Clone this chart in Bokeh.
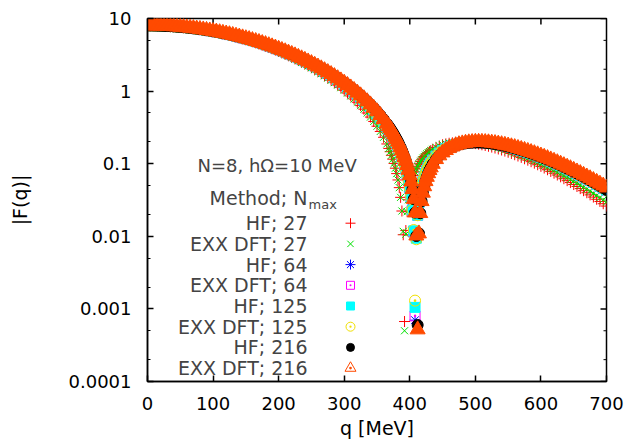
from bokeh.plotting import figure
from bokeh.models import FixedTicker, Label, Range1d, CustomJSTickFormatter
from bokeh.embed import file_html
from bokeh.resources import INLINE

# ---------------- data ----------------
q_mev = [0, 5, 10, 15, 20, 25, 30, 35, 40, 45, 50, 55, 60, 65, 70, 75, 80, 85, 90, 95,
         100, 105, 110, 115, 120, 125, 130, 135, 140, 145, 150, 155, 160, 165, 170, 175, 180, 185, 190, 195,
         200, 205, 210, 215, 220, 225, 230, 235, 240, 245, 250, 255, 260, 265, 270, 275, 280, 285, 290, 295,
         300, 305, 310, 315, 320, 325, 330, 335, 340, 345, 350, 355, 360, 365,
         368, 370, 372, 374, 376, 378, 380, 382, 384, 386, 388, 390, 392, 394, 396, 398, 400, 402, 404, 406,
         408, 410, 412, 414, 416, 418, 420, 422, 424, 426, 428, 430, 432,
         435, 440, 445, 450, 455, 460, 465, 470, 475, 480, 485, 490, 495, 500, 505, 510, 515, 520, 525, 530,
         535, 540, 545, 550, 555, 560, 565, 570, 575, 580, 585, 590, 595, 600, 605, 610, 615, 620, 625, 630,
         635, 640, 645, 650, 655, 660, 665, 670, 675, 680, 685, 690, 695, 700]

hf_27 = [8.0, 7.996, 7.984, 7.965, 7.938, 7.903, 7.860, 7.811, 7.753, 7.689, 7.618, 7.540, 7.455, 7.363, 7.266, 7.163, 7.054, 6.939, 6.819, 6.695,
         6.566, 6.433, 6.295, 6.155, 6.010, 5.863, 5.713, 5.561, 5.407, 5.251, 5.094, 4.936, 4.777, 4.617, 4.458, 4.298, 4.140, 3.981, 3.824, 3.669,
         3.514, 3.362, 3.211, 3.063, 2.917, 2.774, 2.634, 2.496, 2.362, 2.230, 2.102, 1.978, 1.857, 1.740, 1.627, 1.517, 1.411, 1.309, 1.211, 1.116,
         1.026, 0.9394, 0.8567, 0.7778, 0.7027, 0.6314, 0.5637, 0.4996, 0.4391, 0.3821, 0.3285, 0.2782, 0.2311, 0.1871,
         0.1622, 0.1462, 0.1306, 0.1155, 0.1009, 0.0867, 0.0730, 0.0597, 0.0468, 0.0344, 0.0223, 0.0105, 0.00067, 0.0120, 0.0218, 0.0319, 0.0416, 0.0509, 0.0599, 0.0685,
         0.0768, 0.0847, 0.0923, 0.0996, 0.1065, 0.1132, 0.1195, 0.1255, 0.1313, 0.1367, 0.1419, 0.1468, 0.1515,
         0.1580, 0.1675, 0.1756, 0.1824, 0.1873, 0.1912, 0.1939, 0.1956, 0.1964, 0.1963, 0.1955, 0.1939, 0.1918, 0.1891, 0.1858, 0.1822, 0.1782, 0.1739, 0.1693, 0.1644,
         0.1594, 0.1543, 0.1491, 0.1438, 0.1384, 0.1330, 0.1276, 0.1222, 0.1169, 0.1118, 0.1066, 0.1016, 0.0967, 0.0919, 0.0872, 0.0826, 0.0783, 0.0740, 0.0699, 0.0660,
         0.0621, 0.0584, 0.0550, 0.0516, 0.0485, 0.0454, 0.0425, 0.0398, 0.0372, 0.0347, 0.0324, 0.0302, 0.0281, 0.0261]

exx_27 = [8.0, 7.996, 7.984, 7.965, 7.938, 7.903, 7.860, 7.811, 7.753, 7.689, 7.618, 7.540, 7.455, 7.363, 7.266, 7.163, 7.054, 6.939, 6.819, 6.695,
          6.566, 6.433, 6.295, 6.155, 6.010, 5.863, 5.713, 5.561, 5.407, 5.251, 5.094, 4.936, 4.777, 4.617, 4.458, 4.298, 4.140, 3.981, 3.824, 3.669,
          3.514, 3.362, 3.211, 3.063, 2.917, 2.774, 2.634, 2.496, 2.362, 2.230, 2.102, 1.978, 1.857, 1.740, 1.627, 1.517, 1.411, 1.309, 1.211, 1.116,
          1.026, 0.9394, 0.8567, 0.7778, 0.7027, 0.6314, 0.5637, 0.4996, 0.4391, 0.3821, 0.3285, 0.2782, 0.2311, 0.1871,
          0.1622, 0.1462, 0.1306, 0.1155, 0.1009, 0.0867, 0.0730, 0.0597, 0.0468, 0.0344, 0.0223, 0.0117, 0.0005, 0.0107, 0.0218, 0.0319, 0.0416, 0.0509, 0.0599, 0.0685,
          0.0768, 0.0847, 0.0923, 0.0996, 0.1065, 0.1132, 0.1195, 0.1255, 0.1313, 0.1367, 0.1419, 0.1468, 0.1515,
          0.1580, 0.1675, 0.1756, 0.1824, 0.1878, 0.1921, 0.1953, 0.1975, 0.1988, 0.1992, 0.1988, 0.1977, 0.1960, 0.1937, 0.1908, 0.1876, 0.1839, 0.1799, 0.1756, 0.1710,
          0.1662, 0.1613, 0.1562, 0.1510, 0.1457, 0.1404, 0.1351, 0.1297, 0.1244, 0.1192, 0.1140, 0.1089, 0.1039, 0.0990, 0.0942, 0.0895, 0.0850, 0.0806, 0.0763, 0.0722,
          0.0682, 0.0643, 0.0607, 0.0571, 0.0538, 0.0505, 0.0474, 0.0445, 0.0417, 0.0390, 0.0365, 0.0341, 0.0318, 0.0297]

hf_64 = [8.0, 7.996, 7.986, 7.967, 7.943, 7.910, 7.872, 7.825, 7.772, 7.713, 7.647, 7.575, 7.496, 7.412, 7.321, 7.225, 7.124, 7.017, 6.906, 6.790,
         6.669, 6.545, 6.416, 6.284, 6.149, 6.010, 5.869, 5.725, 5.579, 5.431, 5.282, 5.131, 4.979, 4.827, 4.674, 4.521, 4.369, 4.215, 4.063, 3.912,
         3.761, 3.612, 3.465, 3.319, 3.175, 3.033, 2.894, 2.757, 2.622, 2.490, 2.362, 2.235, 2.112, 1.993, 1.876, 1.763, 1.653, 1.547, 1.444, 1.345,
         1.249, 1.157, 1.069, 0.9837, 0.9025, 0.8247, 0.7500, 0.6791, 0.6117, 0.5477, 0.4870, 0.4295, 0.3752, 0.3243,
         0.2949, 0.2760, 0.2576, 0.2396, 0.2222, 0.2051, 0.1886, 0.1725, 0.1568, 0.1416, 0.1268, 0.1124, 0.0984, 0.0849, 0.0717, 0.0590, 0.0466, 0.0347, 0.0231, 0.0115,
         0.0007, 0.0098, 0.0195, 0.0293, 0.0387, 0.0477, 0.0565, 0.0649, 0.0730, 0.0807, 0.0882, 0.0954, 0.1022,
         0.1120, 0.1268, 0.1400, 0.1515, 0.1616, 0.1703, 0.1777, 0.1838, 0.1888, 0.1927, 0.1956, 0.1976, 0.1988, 0.1992, 0.1988, 0.1978, 0.1962, 0.1940, 0.1914, 0.1884,
         0.1850, 0.1812, 0.1771, 0.1728, 0.1683, 0.1636, 0.1588, 0.1539, 0.1488, 0.1438, 0.1387, 0.1335, 0.1284, 0.1234, 0.1183, 0.1134, 0.1085, 0.1036, 0.0989, 0.0943,
         0.0898, 0.0855, 0.0812, 0.0771, 0.0731, 0.0692, 0.0655, 0.0619, 0.0585, 0.0552, 0.0520, 0.0490, 0.0461, 0.0433]

exx_64 = [8.0, 7.996, 7.986, 7.967, 7.943, 7.910, 7.872, 7.825, 7.772, 7.713, 7.647, 7.575, 7.496, 7.412, 7.321, 7.225, 7.124, 7.017, 6.906, 6.790,
          6.669, 6.545, 6.416, 6.284, 6.149, 6.010, 5.869, 5.725, 5.579, 5.431, 5.282, 5.131, 4.979, 4.827, 4.674, 4.521, 4.369, 4.215, 4.063, 3.912,
          3.761, 3.612, 3.465, 3.319, 3.175, 3.033, 2.894, 2.757, 2.622, 2.490, 2.362, 2.235, 2.112, 1.993, 1.876, 1.763, 1.653, 1.547, 1.444, 1.345,
          1.249, 1.157, 1.069, 0.9837, 0.9025, 0.8247, 0.7500, 0.6791, 0.6117, 0.5477, 0.4870, 0.4295, 0.3752, 0.3243,
          0.2949, 0.2760, 0.2576, 0.2396, 0.2222, 0.2051, 0.1886, 0.1725, 0.1568, 0.1416, 0.1268, 0.1124, 0.0984, 0.0849, 0.0717, 0.0590, 0.0466, 0.0347, 0.0231, 0.0116,
          0.0008, 0.0097, 0.0195, 0.0293, 0.0387, 0.0477, 0.0565, 0.0649, 0.0730, 0.0807, 0.0882, 0.0954, 0.1022,
          0.1120, 0.1268, 0.1400, 0.1515, 0.1616, 0.1703, 0.1777, 0.1838, 0.1888, 0.1927, 0.1956, 0.1976, 0.1988, 0.1992, 0.1988, 0.1978, 0.1962, 0.1940, 0.1914, 0.1884,
          0.1850, 0.1812, 0.1771, 0.1728, 0.1683, 0.1636, 0.1588, 0.1539, 0.1488, 0.1438, 0.1387, 0.1335, 0.1284, 0.1234, 0.1183, 0.1134, 0.1085, 0.1036, 0.0989, 0.0943,
          0.0898, 0.0855, 0.0812, 0.0771, 0.0731, 0.0692, 0.0655, 0.0619, 0.0585, 0.0552, 0.0520, 0.0490, 0.0461, 0.0433]

hf_125 = [8.0, 7.996, 7.986, 7.967, 7.943, 7.910, 7.872, 7.825, 7.772, 7.713, 7.647, 7.575, 7.496, 7.412, 7.321, 7.225, 7.124, 7.017, 6.906, 6.790,
          6.669, 6.545, 6.416, 6.284, 6.149, 6.010, 5.869, 5.725, 5.579, 5.431, 5.282, 5.131, 4.979, 4.827, 4.674, 4.521, 4.369, 4.215, 4.063, 3.912,
          3.761, 3.612, 3.465, 3.319, 3.175, 3.033, 2.894, 2.757, 2.622, 2.490, 2.362, 2.235, 2.112, 1.993, 1.876, 1.763, 1.653, 1.547, 1.444, 1.345,
          1.249, 1.157, 1.069, 0.9837, 0.9025, 0.8247, 0.7500, 0.6791, 0.6117, 0.5477, 0.4870, 0.4295, 0.3752, 0.3243,
          0.2949, 0.2760, 0.2576, 0.2396, 0.2222, 0.2051, 0.1886, 0.1725, 0.1568, 0.1416, 0.1268, 0.1124, 0.0984, 0.0849, 0.0717, 0.0590, 0.0466, 0.0347, 0.0231, 0.0119,
          0.00105, 0.0094, 0.0195, 0.0293, 0.0387, 0.0477, 0.0565, 0.0649, 0.0730, 0.0807, 0.0882, 0.0954, 0.1022,
          0.1120, 0.1268, 0.1400, 0.1515, 0.1616, 0.1703, 0.1777, 0.1838, 0.1888, 0.1927, 0.1956, 0.1976, 0.1988, 0.1992, 0.1988, 0.1978, 0.1962, 0.1940, 0.1914, 0.1884,
          0.1850, 0.1812, 0.1771, 0.1728, 0.1683, 0.1636, 0.1588, 0.1539, 0.1488, 0.1438, 0.1387, 0.1335, 0.1284, 0.1234, 0.1183, 0.1134, 0.1085, 0.1036, 0.0989, 0.0943,
          0.0898, 0.0855, 0.0812, 0.0771, 0.0731, 0.0692, 0.0655, 0.0619, 0.0585, 0.0552, 0.0520, 0.0490, 0.0461, 0.0433]

exx_125 = [8.0, 7.996, 7.986, 7.967, 7.943, 7.910, 7.872, 7.825, 7.772, 7.713, 7.647, 7.575, 7.496, 7.412, 7.321, 7.225, 7.124, 7.017, 6.906, 6.790,
           6.669, 6.545, 6.416, 6.284, 6.149, 6.010, 5.869, 5.725, 5.579, 5.431, 5.282, 5.131, 4.979, 4.827, 4.674, 4.521, 4.369, 4.215, 4.063, 3.912,
           3.761, 3.612, 3.465, 3.319, 3.175, 3.033, 2.894, 2.757, 2.622, 2.490, 2.362, 2.235, 2.112, 1.993, 1.876, 1.763, 1.653, 1.547, 1.444, 1.345,
           1.249, 1.157, 1.069, 0.9837, 0.9025, 0.8247, 0.7500, 0.6791, 0.6117, 0.5477, 0.4870, 0.4295, 0.3752, 0.3243,
           0.2949, 0.2760, 0.2576, 0.2396, 0.2222, 0.2051, 0.1886, 0.1725, 0.1568, 0.1416, 0.1268, 0.1124, 0.0984, 0.0849, 0.0717, 0.0590, 0.0466, 0.0347, 0.0231, 0.0122,
           0.0013, 0.0091, 0.0195, 0.0293, 0.0387, 0.0477, 0.0565, 0.0649, 0.0730, 0.0807, 0.0882, 0.0954, 0.1022,
           0.1120, 0.1268, 0.1400, 0.1515, 0.1616, 0.1703, 0.1777, 0.1838, 0.1888, 0.1927, 0.1956, 0.1976, 0.1988, 0.1992, 0.1988, 0.1978, 0.1962, 0.1940, 0.1914, 0.1884,
           0.1850, 0.1812, 0.1771, 0.1728, 0.1683, 0.1636, 0.1588, 0.1539, 0.1488, 0.1438, 0.1387, 0.1335, 0.1284, 0.1234, 0.1183, 0.1134, 0.1085, 0.1036, 0.0989, 0.0943,
           0.0898, 0.0855, 0.0812, 0.0771, 0.0731, 0.0692, 0.0655, 0.0619, 0.0585, 0.0552, 0.0520, 0.0490, 0.0461, 0.0433]

hf_216 = [8.0, 7.996, 7.986, 7.968, 7.944, 7.912, 7.874, 7.828, 7.776, 7.718, 7.653, 7.582, 7.505, 7.422, 7.333, 7.238, 7.139, 7.034, 6.924, 6.810,
          6.691, 6.569, 6.442, 6.312, 6.178, 6.041, 5.902, 5.760, 5.616, 5.470, 5.322, 5.173, 5.023, 4.872, 4.721, 4.569, 4.418, 4.266, 4.115, 3.965,
          3.815, 3.667, 3.520, 3.375, 3.232, 3.090, 2.951, 2.814, 2.680, 2.548, 2.419, 2.292, 2.169, 2.049, 1.932, 1.818, 1.708, 1.601, 1.497, 1.397,
          1.300, 1.207, 1.117, 1.031, 0.9485, 0.8693, 0.7936, 0.7214, 0.6525, 0.5870, 0.5247, 0.4658, 0.4100, 0.3573,
          0.3271, 0.3076, 0.2886, 0.2700, 0.2519, 0.2343, 0.2171, 0.2004, 0.1841, 0.1683, 0.1528, 0.1378, 0.1233, 0.1091, 0.0954, 0.0820, 0.0691, 0.0565, 0.0444, 0.0326,
          0.0212, 0.0101, 0.0006, 0.0110, 0.0208, 0.0304, 0.0397, 0.0487, 0.0573, 0.0656, 0.0736, 0.0813, 0.0886,
          0.0992, 0.1152, 0.1294, 0.1419, 0.1529, 0.1624, 0.1705, 0.1774, 0.1830, 0.1875, 0.1909, 0.1934, 0.1949, 0.1957, 0.1957, 0.1951, 0.1937, 0.1919, 0.1895, 0.1867,
          0.1835, 0.1799, 0.1760, 0.1719, 0.1675, 0.1630, 0.1582, 0.1533, 0.1485, 0.1435, 0.1384, 0.1334, 0.1283, 0.1233, 0.1183, 0.1134, 0.1085, 0.1037, 0.0991, 0.0945,
          0.0900, 0.0856, 0.0814, 0.0773, 0.0733, 0.0695, 0.0658, 0.0622, 0.0587, 0.0555, 0.0523, 0.0492, 0.0463, 0.0435]

exx_216 = [8.0, 7.996, 7.986, 7.968, 7.944, 7.912, 7.874, 7.828, 7.776, 7.718, 7.653, 7.582, 7.505, 7.422, 7.333, 7.238, 7.139, 7.034, 6.924, 6.810,
           6.691, 6.569, 6.442, 6.312, 6.178, 6.041, 5.902, 5.760, 5.616, 5.470, 5.322, 5.173, 5.023, 4.872, 4.721, 4.569, 4.418, 4.266, 4.115, 3.965,
           3.815, 3.667, 3.520, 3.375, 3.232, 3.090, 2.951, 2.814, 2.680, 2.548, 2.419, 2.292, 2.169, 2.049, 1.932, 1.818, 1.708, 1.601, 1.497, 1.397,
           1.300, 1.207, 1.117, 1.031, 0.9485, 0.8693, 0.7936, 0.7214, 0.6525, 0.5870, 0.5247, 0.4658, 0.4100, 0.3573,
           0.3271, 0.3076, 0.2886, 0.2700, 0.2519, 0.2343, 0.2171, 0.2004, 0.1841, 0.1683, 0.1528, 0.1378, 0.1233, 0.1091, 0.0954, 0.0820, 0.0691, 0.0565, 0.0444, 0.0326,
           0.0212, 0.0102, 0.00052, 0.0109, 0.0208, 0.0304, 0.0397, 0.0487, 0.0573, 0.0656, 0.0736, 0.0813, 0.0886,
           0.0992, 0.1152, 0.1296, 0.1423, 0.1535, 0.1633, 0.1717, 0.1788, 0.1847, 0.1895, 0.1932, 0.1960, 0.1978, 0.1989, 0.1992, 0.1988, 0.1977, 0.1961, 0.1939, 0.1913,
           0.1883, 0.1849, 0.1811, 0.1771, 0.1728, 0.1684, 0.1637, 0.1589, 0.1541, 0.1491, 0.1440, 0.1390, 0.1339, 0.1288, 0.1238, 0.1188, 0.1139, 0.1090, 0.1043, 0.0996,
           0.0950, 0.0905, 0.0862, 0.0819, 0.0778, 0.0739, 0.0700, 0.0663, 0.0627, 0.0593, 0.0560, 0.0528, 0.0497, 0.0468]

series_labels = ["HF; 27", "EXX DFT; 27", "HF; 64", "EXX DFT; 64",
                 "HF; 125", "EXX DFT; 125", "HF; 216", "EXX DFT; 216"]
series_values = [hf_27, exx_27, hf_64, exx_64, hf_125, exx_125, hf_216, exx_216]

y_major = [0.0001, 0.001, 0.01, 0.1, 1, 10]
y_minor = [0.0002, 0.0005, 0.002, 0.005, 0.02, 0.05, 0.2, 0.5, 2, 5]
x_major = [0, 100, 200, 300, 400, 500, 600, 700]

for v in series_values:
    assert len(v) == len(q_mev), (len(v), len(q_mev))

# ---------------- styles ----------------
styles = [
    dict(marker="cross", size=11, ksize=10, color="#ff0000", filled=False, kfilled=False),
    dict(marker="x", size=10, ksize=9, color="#00e000", filled=False, kfilled=False),
    dict(marker="asterisk", size=11, ksize=10, color="#0000ff", filled=False, kfilled=False),
    dict(marker="square_dot", size=10, ksize=8, color="#ff00ff", filled=False, kfilled=False),
    dict(marker="square", size=10, ksize=8, color="#00ffff", filled=True, kfilled=True),
    dict(marker="circle_dot", size=11, ksize=9, color="#f0e000", filled=False, kfilled=False),
    dict(marker="circle", size=11, ksize=8, color="#000000", filled=True, kfilled=True),
    dict(marker="triangle_dot", size=15, ksize=11, color="#ff4a00", filled=True, kfilled=False),
]

FONT = "DejaVu Sans"
FS_TICK = "18px"
FS = "19px"

W, H = 626, 444
# page-pixel geometry of the plot frame
FL, FR, FT, FB = 147.0, 606.0, 18.0, 381.0
XMIN, XMAX = 0.0, 700.0


def qx(px):
    return XMIN + (px - FL) / (FR - FL) * (XMAX - XMIN)


def vy(py):
    return 10 ** (1 - (py - FT) / (FB - FT) * 5)


p = figure(width=W, height=H, x_range=Range1d(0, 700), y_range=Range1d(1e-4, 10),
           y_axis_type="log", output_backend="svg", toolbar_location=None,
           min_border_left=int(FL), min_border_right=int(W - FR),
           min_border_top=int(FT), min_border_bottom=int(H - FB))
p.xgrid.visible = False
p.ygrid.visible = False
p.outline_line_color = "black"
p.outline_line_width = 1.5
p.background_fill_color = "white"
p.border_fill_color = "white"

xt = FixedTicker(ticks=x_major, minor_ticks=[])
yt = FixedTicker(ticks=y_major, minor_ticks=y_minor)
yfmt = CustomJSTickFormatter(code="return String(Number(tick.toPrecision(1)));")


def style_axis(ax):
    ax.axis_line_color = "black"
    ax.axis_line_width = 1.5
    ax.major_tick_line_color = "black"
    ax.major_tick_line_width = 1.5
    ax.major_tick_in = 6
    ax.major_tick_out = 0
    ax.minor_tick_line_color = "black"
    ax.minor_tick_line_width = 1
    ax.minor_tick_in = 3
    ax.minor_tick_out = 0
    ax.major_label_text_font = FONT
    ax.major_label_text_color = "black"
    ax.major_label_text_font_size = FS_TICK
    ax.axis_label_text_font = FONT
    ax.axis_label_text_font_size = FS
    ax.axis_label_text_font_style = "normal"
    ax.axis_label_text_color = "black"


xa = p.xaxis[0]
xa.ticker = xt
style_axis(xa)
xa.major_label_standoff = 15
xa.axis_label = "q [MeV]"
xa.axis_label_standoff = 4

ya = p.yaxis[0]
ya.ticker = yt
ya.formatter = yfmt
style_axis(ya)
ya.major_label_standoff = 16
ya.axis_label = "|F(q)|"
ya.axis_label_standoff = 35

# mirrored inward ticks on the top and right borders
top_len = 10 ** (-6 / (FB - FT) * 5)
p.segment(x0=x_major[1:-1], x1=x_major[1:-1], y0=[10] * 6, y1=[10 * top_len] * 6,
          line_color="black", line_width=1.5)
p.segment(x0=[700] * len(y_major), x1=[qx(FR - 6)] * len(y_major), y0=y_major, y1=y_major,
          line_color="black", line_width=1.5)
p.segment(x0=[700] * len(y_minor), x1=[qx(FR - 3)] * len(y_minor), y0=y_minor, y1=y_minor,
          line_color="black", line_width=1)

# ---------------- data points ----------------
for vals, st in zip(series_values, styles):
    p.scatter(q_mev, vals, marker=st["marker"], size=st["size"],
              line_color=st["color"], line_width=1,
              fill_color=st["color"] if st["filled"] else None)

# ---------------- key ----------------
p.add_layout(Label(x=qx(197), y=vy(165), text="N=8, h\u03a9=10 MeV", text_align="left",
                   text_baseline="middle", text_font=FONT, text_font_size="18px"))
p.add_layout(Label(x=qx(307), y=vy(197), text="Method; N", text_align="right",
                   text_baseline="middle", text_font=FONT, text_font_size=FS))
p.add_layout(Label(x=qx(308), y=vy(204), text="max", text_align="left",
                   text_baseline="middle", text_font=FONT, text_font_size="13px"))

row0, drow = 222.7, 20.7
for i, (lab, st) in enumerate(zip(series_labels, styles)):
    py = row0 + i * drow
    p.add_layout(Label(x=qx(307), y=vy(py), text=lab, text_align="right",
                       text_baseline="middle", text_font=FONT, text_font_size=FS))
    p.scatter([qx(350)], [vy(py)], marker=st["marker"], size=st["ksize"],
              line_color=st["color"], line_width=1,
              fill_color=st["color"] if st["kfilled"] else None)

open("out.html", "w").write(file_html(p, INLINE))
